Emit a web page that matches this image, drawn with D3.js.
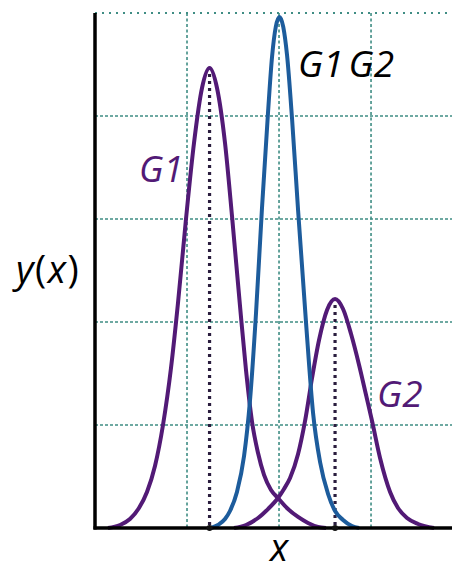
<!DOCTYPE html>
<html>
<head>
<meta charset="utf-8">
<script src="https://cdn.jsdelivr.net/npm/d3@7"></script>
<style>
  html, body { margin: 0; padding: 0; background: #fff; }
  svg { display: block; }
  text { font-family: "Open Sans", "Noto Sans", sans-serif; }
</style>
</head>
<body>
<svg id="chart" width="452" height="571"></svg>
<script>
// ---- data (x and y in grid units) ----
const g1X = [0.141,0.272,0.380,0.478,0.565,0.652,0.739,0.826,0.902,0.989,1.076,1.163,1.245,1.326,1.413,1.489,1.576,1.641,1.707,1.772,1.837,1.913,1.989,2.098,2.207,2.315,2.424,2.511];
const g1Y = [0,0.029,0.087,0.194,0.350,0.602,1.0,1.553,2.184,3.0,3.738,4.272,4.466,4.272,3.738,3.029,2.155,1.534,1.029,0.728,0.515,0.369,0.291,0.184,0.107,0.049,0.010,0];

const g2X = [1.511,1.641,1.772,1.880,1.989,2.054,2.120,2.207,2.283,2.359,2.435,2.522,2.609,2.696,2.783,2.870,2.946,3.011,3.098,3.207,3.293,3.391,3.511,3.685];
const g2Y = [0,0.029,0.097,0.184,0.291,0.379,0.485,0.718,1.039,1.456,1.825,2.117,2.223,2.126,1.883,1.583,1.291,1.039,0.680,0.350,0.194,0.097,0.039,0];

const g12X = [1.261,1.337,1.413,1.467,1.543,1.620,1.685,1.750,1.815,1.880,1.924,2.005,2.087,2.141,2.207,2.293,2.370,2.446,2.533,2.609,2.696,2.793,2.870];
const g12Y = [0,0.029,0.087,0.165,0.350,0.699,1.243,2.087,3.107,4.029,4.573,4.961,4.592,3.981,3.087,2.0,1.117,0.641,0.330,0.165,0.078,0.019,0];

const peakX = [1.245, 2.609];
const peakY = [4.466, 2.223];

const xGrid = [1, 2, 3];
const yGrid = [1, 2, 3, 4];
const yTop = 5;
const xMax = 3.88;

// ---- scales ----
const svg = d3.select("#chart");
const x = d3.scaleLinear().domain([0, xMax]).range([95, 452]);
const y = d3.scaleLinear().domain([0, yTop]).range([528, 13]);

const purple = "#521a76";
const blue = "#1d5c9c";
const gridCol = "#3f8d84";

// grid
const grid = svg.append("g");
grid.selectAll("line.v").data(xGrid).join("line")
  .attr("x1", d => x(d)).attr("x2", d => x(d))
  .attr("y1", y(yTop)).attr("y2", y(0))
  .attr("stroke", gridCol).attr("stroke-width", 1.6)
  .attr("stroke-dasharray", "3,2.5");
grid.selectAll("line.h").data(yGrid).join("line")
  .attr("x1", x(0)).attr("x2", x(xMax))
  .attr("y1", d => y(d)).attr("y2", d => y(d))
  .attr("stroke", gridCol).attr("stroke-width", 1.6)
  .attr("stroke-dasharray", "3,2");
grid.append("line")
  .attr("x1", x(0)).attr("x2", x(xMax))
  .attr("y1", y(yTop)).attr("y2", y(yTop))
  .attr("stroke", gridCol).attr("stroke-width", 2)
  .attr("stroke-dasharray", "2,5");

// peak markers
svg.selectAll("line.pk").data(peakX).join("line")
  .attr("x1", d => x(d)).attr("x2", d => x(d))
  .attr("y1", (d, i) => y(peakY[i]) + 6).attr("y2", y(0))
  .attr("stroke", "#2a1d3e").attr("stroke-width", 3.2)
  .attr("stroke-dasharray", "3,4");

// curves
const line = d3.line().x(d => x(d[0])).y(d => y(d[1])).curve(d3.curveMonotoneX);
const series = [
  {xs: g1X, ys: g1Y, c: purple},
  {xs: g2X, ys: g2Y, c: purple},
  {xs: g12X, ys: g12Y, c: blue}
];
svg.selectAll("path.curve").data(series).join("path")
  .attr("fill", "none")
  .attr("stroke", d => d.c)
  .attr("stroke-width", 4)
  .attr("stroke-linejoin", "round")
  .attr("d", d => line(d.xs.map((v, i) => [v, d.ys[i]])));

// axes
svg.append("line").attr("x1", x(0)).attr("x2", x(0))
  .attr("y1", y(yTop)).attr("y2", y(0) + 1.5)
  .attr("stroke", "#000").attr("stroke-width", 3.5);
svg.append("line").attr("x1", x(0) - 1.5).attr("x2", x(xMax))
  .attr("y1", y(0)).attr("y2", y(0))
  .attr("stroke", "#000").attr("stroke-width", 3.5);

svg.selectAll("circle.pk").data(peakX).join("circle")
  .attr("cx", d => x(d)).attr("cy", y(0)).attr("r", 3).attr("fill", "#111");

// labels
svg.append("text").attr("x", 16).attr("y", 283)
  .attr("font-size", 38).attr("letter-spacing", 1.5).attr("fill", "#000")
  .html('<tspan font-style="italic">y</tspan>(<tspan font-style="italic">x</tspan>)');

svg.append("text").attr("x", 270).attr("y", 561)
  .attr("font-size", 38).attr("font-style", "italic").attr("fill", "#000").text("x");

svg.append("text").attr("x", 298).attr("y", 77)
  .attr("font-size", 37).attr("font-style", "italic").attr("fill", "#000")
  .html('<tspan>G1</tspan><tspan dx="5">G2</tspan>');

svg.append("text").attr("x", 139).attr("y", 182)
  .attr("font-size", 36).attr("font-style", "italic").attr("fill", purple).text("G1");

svg.append("text").attr("x", 377).attr("y", 407)
  .attr("font-size", 37).attr("font-style", "italic").attr("fill", purple).text("G2");
</script>
</body>
</html>
